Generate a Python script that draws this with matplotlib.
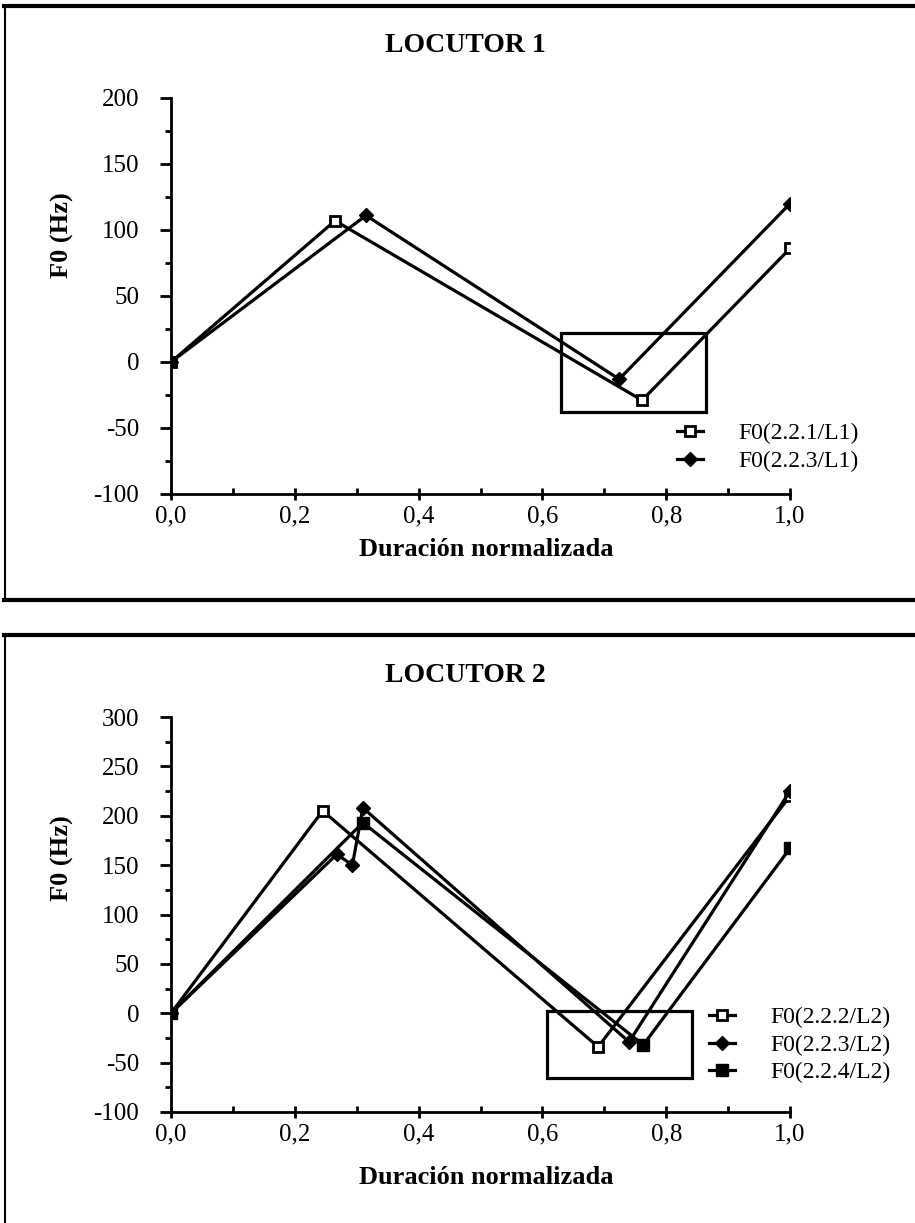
import numpy as np
import matplotlib.pyplot as plt
from matplotlib.lines import Line2D
from matplotlib.patches import Rectangle
from matplotlib.ticker import MultipleLocator, FuncFormatter

plt.rcParams['font.family'] = ['Liberation Serif', 'DejaVu Serif']
plt.rcParams['axes.unicode_minus'] = False

# LOCUTOR 1
x_221_L1 = [0.0, 0.265, 0.761, 1.0]
y_221_L1 = [0, 107, -29, 86]
x_223_L1 = [0.0, 0.315, 0.724, 1.0]
y_223_L1 = [0, 111, -13, 120]

# LOCUTOR 2
x_222_L2 = [0.0, 0.245, 0.69, 1.0]
y_222_L2 = [0, 205, -34, 220]
x_223_L2 = [0.0, 0.268, 0.293, 0.31, 0.74, 1.0]
y_223_L2 = [0, 161, 150, 208, -29, 225]
x_224_L2 = [0.0, 0.31, 0.763, 1.0]
y_224_L2 = [0, 193, -32, 167]

xticks = [0.0, 0.2, 0.4, 0.6, 0.8, 1.0]

W, H = 915, 1223
fig = plt.figure(figsize=(W / 100, H / 100), dpi=100)


def fx(px):
    return px / W


def fy(py):
    return 1 - py / H


def comma(v, pos):
    return ('%.1f' % v).replace('.', ',')


def style_axes(ax, ymin, ymax):
    ax.set_xlim(0, 1)
    ax.set_ylim(ymin, ymax)
    for s in ['top', 'right']:
        ax.spines[s].set_visible(False)
    for s in ['left', 'bottom']:
        ax.spines[s].set_linewidth(2)
    ax.yaxis.set_major_locator(MultipleLocator(50))
    ax.yaxis.set_minor_locator(MultipleLocator(25))
    ax.set_xticks(xticks)
    ax.xaxis.set_minor_locator(MultipleLocator(0.1))
    ax.xaxis.set_major_formatter(FuncFormatter(comma))
    ax.tick_params(axis='y', which='major', direction='out', length=8, width=2, labelsize=18, pad=15)
    ax.tick_params(axis='y', which='minor', direction='out', length=4, width=2)
    ax.tick_params(axis='x', which='major', direction='inout', length=8, width=2, labelsize=18, pad=4)
    ax.tick_params(axis='x', which='minor', direction='in', length=4, width=2)
    ax.patch.set_alpha(0)


open_sq = dict(marker='s', markersize=7, markerfacecolor='white', markeredgecolor='black', markeredgewidth=2)
diam = dict(marker='D', markersize=7, markerfacecolor='black', markeredgecolor='black')
fill_sq = dict(marker='s', markersize=8, markerfacecolor='black', markeredgecolor='black')
leg_kw = dict(frameon=False, fontsize=17, handlelength=1.1, handletextpad=1.5, labelspacing=0.25,
              borderaxespad=0, borderpad=0)

# panel 1
ax1 = fig.add_axes([fx(171), fy(494), fx(790 - 171), (494 - 98) / H])
style_axes(ax1, -100, 200)
ax1.plot(x_221_L1, y_221_L1, color='black', lw=2.3, label='F0(2.2.1/L1)', **open_sq)
ax1.plot(x_223_L1, y_223_L1, color='black', lw=2.3, label='F0(2.2.3/L1)', **diam)
ax1.add_patch(Rectangle((0.630, -38), 0.864 - 0.630, 60, fill=False, lw=2.3, ec='black'))
ax1.legend(loc='upper left', bbox_to_anchor=((677 - 171) / (790 - 171), (494 - 423) / (494 - 98)), **leg_kw)

# panel 2
ax2 = fig.add_axes([fx(171), fy(1112), fx(790 - 171), (1112 - 717) / H])
style_axes(ax2, -100, 300)
ax2.plot(x_222_L2, y_222_L2, color='black', lw=2.3, label='F0(2.2.2/L2)', **open_sq)
ax2.plot(x_223_L2, y_223_L2, color='black', lw=2.3, label='F0(2.2.3/L2)', **diam)
ax2.plot(x_224_L2, y_224_L2, color='black', lw=2.3, label='F0(2.2.4/L2)', **fill_sq)
ax2.add_patch(Rectangle((0.607, -66), 0.842 - 0.607, 68, fill=False, lw=2.3, ec='black'))
ax2.legend(loc='upper left', bbox_to_anchor=((709 - 171) / (790 - 171), (1112 - 1007) / (1112 - 717)), **leg_kw)

# titles and axis labels
fig.text(fx(465), fy(45), 'LOCUTOR 1', ha='center', va='center', fontsize=20, fontweight='bold')
fig.text(fx(465), fy(675), 'LOCUTOR 2', ha='center', va='center', fontsize=20, fontweight='bold')
fig.text(fx(486), fy(550), 'Duración normalizada', ha='center', va='center', fontsize=19, fontweight='bold')
fig.text(fx(486), fy(1178), 'Duración normalizada', ha='center', va='center', fontsize=19, fontweight='bold')
fig.text(fx(62), fy(235), 'F0 (Hz)', ha='center', va='center', rotation=90, fontsize=19, fontweight='bold')
fig.text(fx(62), fy(858), 'F0 (Hz)', ha='center', va='center', rotation=90, fontsize=19, fontweight='bold')

# panel frames
fig.add_artist(Line2D([fx(4), 1], [fy(5.5), fy(5.5)], color='black', lw=3))
fig.add_artist(Line2D([fx(5), fx(5)], [fy(5), fy(600)], color='black', lw=1.5))
fig.add_artist(Line2D([fx(4), 1], [fy(600), fy(600)], color='black', lw=3))
fig.add_artist(Line2D([fx(4), 1], [fy(635), fy(635)], color='black', lw=3))
fig.add_artist(Line2D([fx(5), fx(5)], [fy(635), 0], color='black', lw=1.5))

fig.savefig('out.png', dpi=100)
